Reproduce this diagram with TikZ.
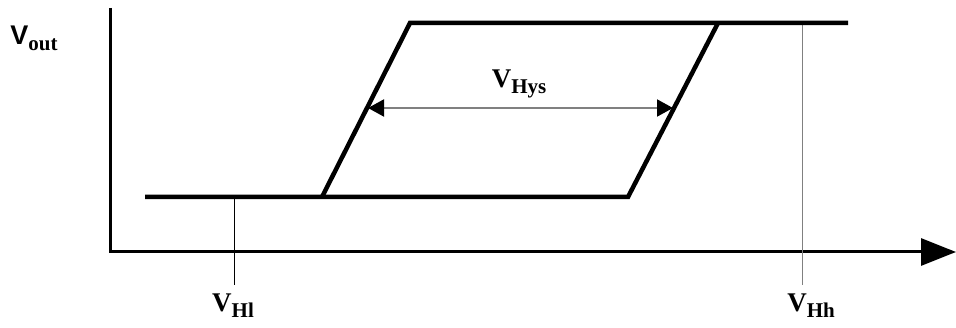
\documentclass[tikz,border=0pt]{standalone}
\usepackage{fontspec}
\setmainfont{Liberation Serif}
\newfontfamily\arialfont{Liberation Sans}
\usetikzlibrary{arrows.meta}
\tikzset{
  curve/.style={line width=4.5pt, line join=miter},
  axis/.style={line width=3pt},
  marker/.style={line width=1pt},
  lbl/.style={inner sep=0pt, font=\fontsize{27}{27}\selectfont\bfseries},
}
\newcommand{\subtext}[1]{\raisebox{-6pt}{\fontsize{21}{21}\selectfont #1}}
\begin{document}
\begin{tikzpicture}[x=1pt, y=-1pt]
    \useasboundingbox (0,0) rectangle (956,328);

    \coordinate (ytop) at (110, 8);
    \coordinate (origin) at (110, 252);
    \coordinate (xend) at (956, 252);

    \coordinate (lostart) at (145, 197);
    \coordinate (loleft) at (322, 197);
    \coordinate (loright) at (628, 197);
    \coordinate (hileft) at (410, 23);
    \coordinate (hiright) at (718, 23);
    \coordinate (hiend) at (848, 23);

    \coordinate (hl) at (234, 197);
    \coordinate (hlfoot) at (234, 285);
    \coordinate (hh) at (802, 23);
    \coordinate (hhfoot) at (802, 285);

    \coordinate (hysl) at (368, 108);
    \coordinate (hysr) at (673, 108);

    \node [lbl] (vout) at (34, 38) {{\arialfont V}\subtext{out}};
    \node [lbl] (vhl) at (233, 306) {V\subtext{Hl}};
    \node [lbl] (vhh) at (811, 306) {V\subtext{Hh}};
    \node [lbl] (vhys) at (519, 84) {V\subtext{Hys}};

    \draw [axis, -{Triangle[length=35pt, width=27pt]}] (ytop) -- (origin) -- (xend);

    \draw [marker] (hl) -- (hlfoot);
    \draw [marker, gray] (hh) -- (hhfoot);

    \draw [curve] (lostart) -- (loright) -- (hiright);
    \draw [curve] (loleft) -- (hileft) -- (hiend);

    \draw [line width=2pt, gray, {Triangle[length=16pt, width=17pt, color=black]}-{Triangle[length=16pt, width=17pt, color=black]}] (hysl) -- (hysr);
\end{tikzpicture}
\end{document}
